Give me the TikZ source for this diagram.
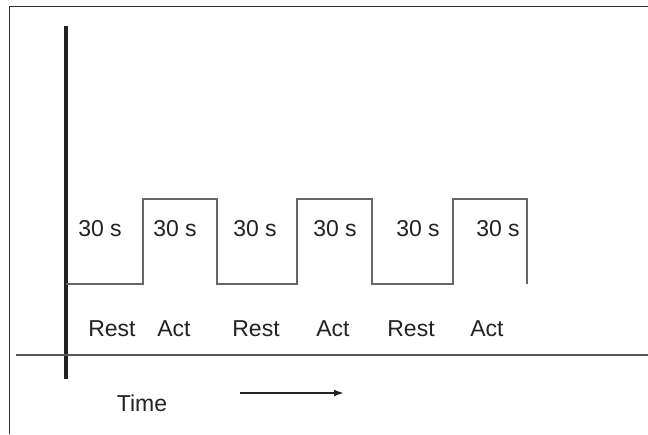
\documentclass[tikz,border=0pt]{standalone}
\usepackage{fontspec}
\setmainfont{Liberation Sans}
\usepackage{tikz}
\usetikzlibrary{calc}
\usetikzlibrary{arrows.meta}
\definecolor{axisgray}{HTML}{222222}
\definecolor{wavegray}{HTML}{666666}
\definecolor{framegray}{HTML}{333333}
\tikzset{
  lbl/.style={text=axisgray, inner sep=0pt, font=\fontsize{23}{27}\selectfont},
  wave/.style={draw=wavegray, line width=2.5pt}
}
\begin{document}
\begin{tikzpicture}[x=10pt, y=10pt]
\useasboundingbox (0, 0) rectangle (64.8, 43.4);
\draw[framegray, line width=1.6pt] (0.95, 0) -- (0.95, 42.75) -- (64.8, 42.75);
\draw[axisgray, line width=4.5pt] (6.6, 5.5) -- (6.6, 40.8);
\draw[wavegray!85!black, line width=2.5pt] (1.6, 7.9) -- (64.8, 7.9);
\draw[wave] (6.6, 15) -- (14.3, 15) -- (14.3, 23.5) -- (21.7, 23.5) -- (21.7, 15) -- (29.7, 15) -- (29.7, 23.5) -- (37.2, 23.5) -- (37.2, 15) -- (45.3, 15) -- (45.3, 23.5) -- (52.7, 23.5) -- (52.7, 15);
\node[lbl] (d1) at (10.0, 20.5) {30 s};
\node[lbl] (d2) at (17.5, 20.5) {30 s};
\node[lbl] (d3) at (25.5, 20.5) {30 s};
\node[lbl] (d4) at (33.5, 20.5) {30 s};
\node[lbl] (d5) at (41.8, 20.5) {30 s};
\node[lbl] (d6) at (49.8, 20.5) {30 s};
\node[lbl] (r1) at (11.2, 10.5) {Rest};
\node[lbl] (a1) at (17.4, 10.5) {Act};
\node[lbl] (r2) at (25.6, 10.5) {Rest};
\node[lbl] (a2) at (33.3, 10.5) {Act};
\node[lbl] (r3) at (41.1, 10.5) {Rest};
\node[lbl] (a3) at (48.7, 10.5) {Act};
\node[lbl] (time) at (14.2, 3.1) {Time};
\coordinate (tstart) at (24.0, 4.1);
\coordinate (tend) at (34.4, 4.1);
\draw[-{Latex[length=10pt,width=7pt]}, axisgray, line width=2.2pt] (tstart) -- (tend);
\end{tikzpicture}
\end{document}
